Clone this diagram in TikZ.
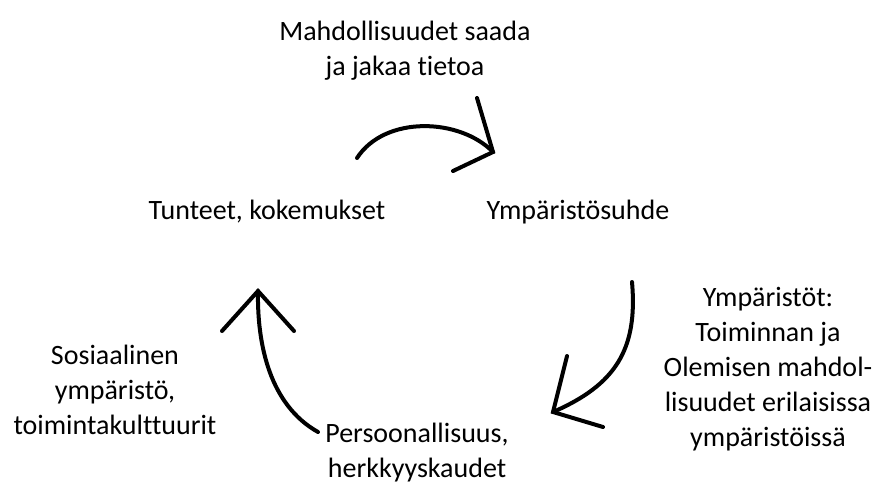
\documentclass[tikz,border=0pt]{standalone}
\usepackage{fontspec}
\setmainfont{Carlito}[Ligatures=NoCommon]
\begin{document}
\begin{tikzpicture}[
  x=0.5pt, y=-0.5pt,
  lab/.style={align=center, inner sep=0pt, font=\fontsize{14}{17.5}\selectfont},
  arr/.style={draw=black, line width=2pt, line cap=round, line join=miter},
]
\useasboundingbox (0,0) rectangle (873,484);

\node[lab] (tieto)   at (405,51)  {Mahdollisuudet saada\\ ja jakaa tietoa};
\node[lab] (tunteet) at (267,212) {Tunteet, kokemukset};
\node[lab] (suhde)   at (578,212) {Ympäristösuhde};
\node[lab] (ymp)     at (768,369) {Ympäristöt:\\ Toiminnan ja\\ Olemisen mahdol-\\ lisuudet erilaisissa\\ ympäristöissä};
\node[lab] (sos)     at (115,390) {Sosiaalinen\\ ympäristö,\\ toimintakulttuurit};
\node[lab] (pers)    at (417,453) {Persoonallisuus,\\ herkkyyskaudet};

% ── Arrows (hand-drawn open heads) ──────────────────────────────────────
\coordinate (topS) at (357,158);
\coordinate (topE) at (493,152);
\coordinate (rgtS) at (632,282);
\coordinate (rgtE) at (553,412);
\coordinate (lftS) at (318,432);
\coordinate (lftE) at (258,291);

\draw[arr] (topS) .. controls (385,115) and (460,118) .. (topE);
\draw[arr] (477,98) -- (topE) -- (453,171);
\draw[arr] (rgtS) .. controls (638,350) and (615,385) .. (rgtE);
\draw[arr] (567,356) -- (rgtE) -- (603,427);
\draw[arr] (lftS) .. controls (270,405) and (257,345) .. (lftE);
\draw[arr] (222,331) -- (lftE) -- (294,331);

\end{tikzpicture}
\end{document}
